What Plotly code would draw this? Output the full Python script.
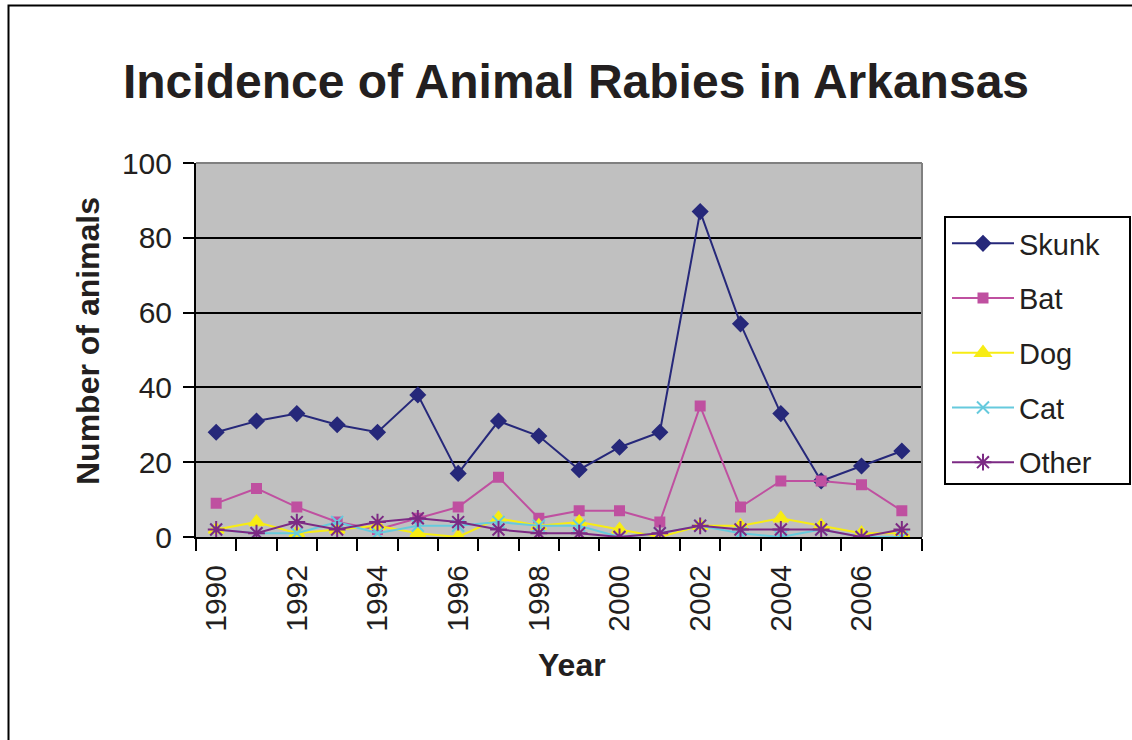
import plotly.graph_objects as go

years = list(range(1990, 2008))
skunk = [28, 31, 33, 30, 28, 38, 17, 31, 27, 18, 24, 28, 87, 57, 33, 15, 19, 23]
bat =   [9, 13, 8, 4, 2, 5, 8, 16, 5, 7, 7, 4, 35, 8, 15, 15, 14, 7]
dog =   [2, 4, 1, 2, 3, 1, 0, 5, 3, 4, 2, 0, 3, 3, 5, 3, 1, 1]
cat =   [2, 1, 1, 4, 1, 3, 3, 4, 3, 3, 0, 1, 3, 1, 0, 2, 0, 0]
other = [2, 1, 4, 2, 4, 5, 4, 2, 1, 1, 0, 1, 3, 2, 2, 2, 0, 2]

series = [
    ("Skunk", skunk, "#26287A", "diamond", 11, 2),
    ("Bat", bat, "#BF50A0", "square", 9, 2),
    ("Dog", dog, "#F7EC14", "triangle-up", 13, 2),
    ("Cat", cat, "#66CADD", "x-thin-open", 12, 2),
    ("Other", other, "#7C2A84", "asterisk-open", 14, 2),
]

y_ticks = [0, 20, 40, 60, 80, 100]
x_ticks = [1990, 1992, 1994, 1996, 1998, 2000, 2002, 2004, 2006]

fig = go.Figure()
for i, (name, vals, col, sym, size, lw) in enumerate(series):
    fig.add_trace(go.Scatter(
        x=years, y=vals, name=name, mode="lines+markers",
        line=dict(color=col, width=lw),
        marker=dict(symbol=sym, size=size, color=col, line=dict(color=col, width=2)),
        legendgroup=f"g{i}",
    ))

FONT = "Liberation Sans, Arial, sans-serif"
L, R, T, B = 196, 922, 163, 537
W, H = 1132, 740

def px_x(px):
    return (px - L) / (R - L)

def px_y(py):
    return (B - py) / (B - T)

fig.update_layout(
    width=W, height=H,
    margin=dict(l=L, r=W - R, t=T, b=H - B),
    paper_bgcolor="white",
    plot_bgcolor="#C0C0C0",
    font=dict(family=FONT, color="#231F20"),
    title=dict(text="<b>Incidence of Animal Rabies in Arkansas</b>",
               font=dict(size=48, family=FONT, color="#231F20"),
               x=576 / W, xref="container", xanchor="center",
               y=1 - 81 / H, yref="container", yanchor="middle"),
    showlegend=True,
    legend=dict(x=px_x(947), y=px_y(218), xanchor="left", yanchor="top",
                borderwidth=0, bgcolor="rgba(0,0,0,0)",
                font=dict(size=29, family=FONT, color="#231F20"),
                itemwidth=62,
                traceorder="grouped", tracegroupgap=14),
    xaxis=dict(range=[1989.5, 2007.5], tickvals=x_ticks,
               ticktext=[str(v) for v in x_ticks], tickangle=-90,
               ticks="", showgrid=False, zeroline=False,
               showline=True, linecolor="black", linewidth=2,
               ticklabelstandoff=14,
               tickfont=dict(size=30, family=FONT, color="#231F20"),
               minor=dict(tick0=1989.5, dtick=1, ticks="outside", ticklen=12,
                          tickwidth=2, tickcolor="black", showgrid=False)),
    yaxis=dict(range=[0, 100], tickvals=y_ticks, ticks="outside", ticklen=11,
               tickwidth=2, tickcolor="black", ticklabelstandoff=5,
               showgrid=True, gridcolor="black", gridwidth=2, zeroline=False,
               showline=True, linecolor="black", linewidth=2,
               tickfont=dict(size=30, family=FONT, color="#231F20")),
)

fig.add_annotation(text="<b>Number of animals</b>", textangle=-90,
                   xref="paper", yref="paper", x=px_x(88), y=px_y(341),
                   xanchor="center", yanchor="middle",
                   showarrow=False, font=dict(size=32, family=FONT, color="#231F20"))
fig.add_annotation(text="<b>Year</b>", xref="paper", yref="paper",
                   x=px_x(572), y=px_y(665), xanchor="center", yanchor="middle",
                   showarrow=False,
                   font=dict(size=32, family=FONT, color="#231F20"))

# plot area gray border (top and right)
fig.add_shape(type="line", xref="paper", yref="paper", x0=0, x1=1, y0=1, y1=1,
              line=dict(color="#808080", width=2), layer="above")
fig.add_shape(type="line", xref="paper", yref="paper", x0=1, x1=1, y0=0, y1=1,
              line=dict(color="#808080", width=2), layer="above")
# legend box
fig.add_shape(type="rect", xref="paper", yref="paper",
              x0=px_x(945), x1=px_x(1130), y0=px_y(484), y1=px_y(217),
              line=dict(color="black", width=2), layer="above")
# outer chart border
fig.add_shape(type="rect", xref="paper", yref="paper",
              x0=px_x(8.5), x1=px_x(1150), y0=px_y(5.5), y1=px_y(780),
              line=dict(color="black", width=2), layer="above")

fig.write_html("out.html", config={"displayModeBar": False},
               post_script="document.body.style.margin='0px';")
